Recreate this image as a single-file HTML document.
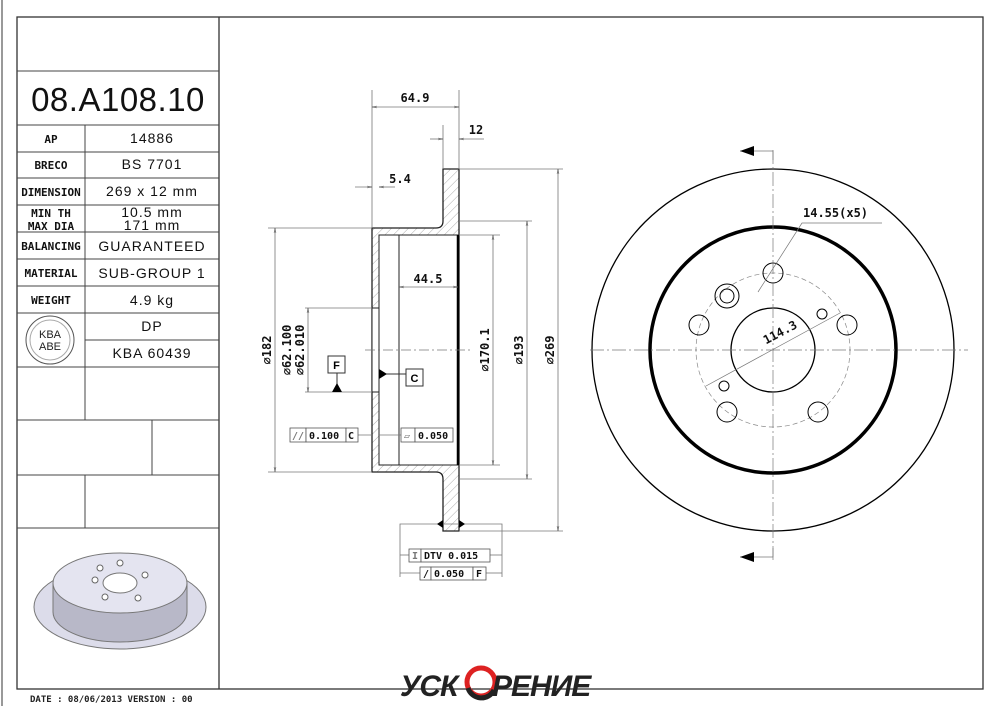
<!DOCTYPE html>
<html><head><meta charset="utf-8"><style>
html,body{margin:0;padding:0;background:#fff;}
svg{display:block;}
text{font-family:"Liberation Sans",sans-serif;}
.m{font-family:"DejaVu Sans Mono","Liberation Mono",monospace;}
</style></head><body>
<svg width="999" height="706" viewBox="0 0 999 706" xmlns="http://www.w3.org/2000/svg">
<defs>
<pattern id="h" width="6" height="6" patternUnits="userSpaceOnUse" patternTransform="rotate(45)"><line x1="0" y1="0" x2="0" y2="6" stroke="#888" stroke-width="0.7"/></pattern>
<marker id="a" viewBox="0 0 10 10" refX="10" refY="5" markerWidth="6" markerHeight="6" orient="auto-start-reverse"><path d="M0,3 L10,5 L0,7" fill="none" stroke="#555" stroke-width="1"/></marker>
</defs>
<line x1="2" y1="0" x2="2" y2="706" stroke="#999" stroke-width="2"/>
<rect x="17" y="17" width="966" height="672" fill="none" stroke="#333" stroke-width="1.3"/>
<line x1="219" y1="17" x2="219" y2="689" stroke="#333" stroke-width="1.3"/>
<g stroke="#444" stroke-width="1">
<line x1="17" y1="71" x2="219" y2="71"/><line x1="17" y1="125" x2="219" y2="125"/>
<line x1="17" y1="152" x2="219" y2="152"/><line x1="17" y1="178" x2="219" y2="178"/>
<line x1="17" y1="205" x2="219" y2="205"/><line x1="17" y1="232" x2="219" y2="232"/>
<line x1="17" y1="259" x2="219" y2="259"/><line x1="17" y1="286" x2="219" y2="286"/>
<line x1="17" y1="313" x2="219" y2="313"/><line x1="85" y1="340" x2="219" y2="340"/>
<line x1="17" y1="367" x2="219" y2="367"/><line x1="17" y1="420" x2="219" y2="420"/>
<line x1="17" y1="475" x2="219" y2="475"/><line x1="17" y1="528" x2="219" y2="528"/>
<line x1="85" y1="125" x2="85" y2="420"/><line x1="152" y1="420" x2="152" y2="475"/>
<line x1="85" y1="475" x2="85" y2="528"/>
</g>
<text x="118" y="111" font-size="33" letter-spacing="0.5" text-anchor="middle" fill="#111">08.A108.10</text>
<g class="m" font-size="11" font-weight="bold" text-anchor="middle" fill="#111">
<text class="m" x="51" y="143">AP</text><text class="m" x="51" y="169">BRECO</text>
<text class="m" x="51" y="196">DIMENSION</text><text class="m" x="51" y="217">MIN TH</text><text class="m" x="51" y="230">MAX DIA</text>
<text class="m" x="51" y="250">BALANCING</text><text class="m" x="51" y="277">MATERIAL</text><text class="m" x="51" y="304">WEIGHT</text>
</g>
<g font-size="14" letter-spacing="1" text-anchor="middle" fill="#111">
<text x="152" y="143">14886</text><text x="152" y="169">BS 7701</text>
<text x="152" y="196">269 x 12 mm</text><text x="152" y="217">10.5 mm</text><text x="152" y="230">171 mm</text>
<text x="152" y="251">GUARANTEED</text><text x="152" y="278">SUB-GROUP 1</text><text x="152" y="305">4.9 kg</text>
<text x="152" y="331">DP</text><text x="152" y="358">KBA 60439</text>
</g>
<circle cx="50" cy="340" r="24" fill="none" stroke="#555"/><circle cx="50" cy="340" r="20" fill="none" stroke="#aaa"/>
<text x="50" y="338" font-size="11" text-anchor="middle" font-family="Liberation Serif" fill="#222">KBA</text>
<text x="50" y="350" font-size="11" text-anchor="middle" font-family="Liberation Serif" fill="#222">ABE</text>
<ellipse cx="120" cy="607" rx="86" ry="42" fill="#dcdcea" stroke="#777"/>
<path d="M53,583 L53,612 A67,30 0 0 0 187,612 L187,583 Z" fill="#b8b8c8" stroke="#777"/>
<ellipse cx="120" cy="583" rx="67" ry="30" fill="#e4e4f0" stroke="#777"/>
<ellipse cx="120" cy="583" rx="17" ry="10" fill="#fff" stroke="#777"/>
<g fill="#fff" stroke="#666"><circle cx="95" cy="580" r="3"/><circle cx="145" cy="575" r="3"/><circle cx="105" cy="597" r="3"/><circle cx="138" cy="598" r="3"/><circle cx="120" cy="563" r="3"/><circle cx="100" cy="568" r="3"/></g>
<text x="30" y="702" class="m" font-size="9" font-weight="bold" fill="#222">DATE : 08/06/2013 VERSION : 00</text>
<path d="M443,169 L459,169 L459,531 L443,531 L443,479 Q443,472 436,472 L372,472 L372,228 L436,228 Q443,228 443,221 Z" fill="url(#h)" stroke="#222" stroke-width="1.3"/>
<rect x="379" y="235" width="79" height="230" fill="#fff" stroke="#222" stroke-width="1"/>
<line x1="399" y1="235" x2="399" y2="465" stroke="#222"/>
<line x1="458" y1="235" x2="458" y2="465" stroke="#000" stroke-width="2.5"/>
<rect x="372" y="308" width="7" height="84" fill="#fff" stroke="#222"/>
<g stroke="#777" stroke-width="0.8" fill="none">
<line x1="372" y1="90" x2="372" y2="228"/><line x1="459" y1="90" x2="459" y2="169"/><line x1="443" y1="125" x2="443" y2="169"/>
<line x1="372" y1="107" x2="459" y2="107" marker-start="url(#a)" marker-end="url(#a)"/>
<line x1="430" y1="139" x2="443" y2="139" marker-end="url(#a)"/><line x1="484" y1="139" x2="459" y2="139" marker-end="url(#a)"/>
<line x1="355" y1="187" x2="372" y2="187" marker-end="url(#a)"/><line x1="395" y1="187" x2="379" y2="187" marker-end="url(#a)"/>
<line x1="399" y1="287" x2="458" y2="287" marker-start="url(#a)" marker-end="url(#a)"/>
<line x1="268" y1="228" x2="372" y2="228"/><line x1="268" y1="472" x2="372" y2="472"/>
<line x1="275" y1="228" x2="275" y2="472" marker-start="url(#a)" marker-end="url(#a)"/>
<line x1="305" y1="308" x2="372" y2="308"/><line x1="305" y1="392" x2="372" y2="392"/>
<line x1="308" y1="308" x2="308" y2="392" marker-start="url(#a)" marker-end="url(#a)"/>
<line x1="459" y1="235" x2="500" y2="235"/><line x1="459" y1="465" x2="500" y2="465"/>
<line x1="493" y1="235" x2="493" y2="465" marker-start="url(#a)" marker-end="url(#a)"/>
<line x1="459" y1="221" x2="532" y2="221"/><line x1="459" y1="479" x2="532" y2="479"/>
<line x1="527" y1="221" x2="527" y2="479" marker-start="url(#a)" marker-end="url(#a)"/>
<line x1="459" y1="169" x2="563" y2="169"/><line x1="459" y1="531" x2="563" y2="531"/>
<line x1="558" y1="169" x2="558" y2="531" marker-start="url(#a)" marker-end="url(#a)"/>
<line x1="365" y1="350" x2="470" y2="350" stroke-dasharray="10,3,2,3"/>
<line x1="345" y1="435" x2="372" y2="435"/><line x1="379" y1="435" x2="401" y2="435"/>
<polyline points="400,577 400,524 502,524 502,577"/>
<line x1="400" y1="555" x2="409" y2="555"/><line x1="490" y1="555" x2="502" y2="555"/>
<line x1="400" y1="573" x2="420" y2="573"/><line x1="486" y1="573" x2="502" y2="573"/>
</g>
<path d="M437,524 l6,-4 l0,8 Z M465,524 l-6,-4 l0,8 Z" fill="#000"/>
<g class="m" font-size="12" font-weight="bold" fill="#111">
<text class="m" x="415" y="102" text-anchor="middle">64.9</text>
<text class="m" x="476" y="134" text-anchor="middle">12</text>
<text class="m" x="400" y="183" text-anchor="middle">5.4</text>
<text class="m" x="428" y="283" text-anchor="middle">44.5</text>
<text class="m" transform="translate(271,350) rotate(-90)" text-anchor="middle">⌀182</text>
<text class="m" transform="translate(291,350) rotate(-90)" text-anchor="middle">⌀62.100</text>
<text class="m" transform="translate(304,350) rotate(-90)" text-anchor="middle">⌀62.010</text>
<text class="m" transform="translate(489,350) rotate(-90)" text-anchor="middle">⌀170.1</text>
<text class="m" transform="translate(523,350) rotate(-90)" text-anchor="middle">⌀193</text>
<text class="m" transform="translate(554,350) rotate(-90)" text-anchor="middle">⌀269</text>
</g>
<rect x="328" y="356" width="17" height="17" fill="#fff" stroke="#333"/><text x="336.5" y="369" font-size="11" font-weight="bold" text-anchor="middle">F</text>
<line x1="337" y1="373" x2="337" y2="392" stroke="#333"/><path d="M332,392 L337,383 L342,392 Z" fill="#000"/>
<rect x="406" y="369" width="17" height="17" fill="#fff" stroke="#333"/><text x="414.5" y="382" font-size="11" font-weight="bold" text-anchor="middle">C</text>
<line x1="385" y1="374" x2="406" y2="374" stroke="#333"/><path d="M379,369 L387,374 L379,379 Z" fill="#000"/>
<g class="m" font-size="10" font-weight="bold" fill="#111" stroke="#555" stroke-width="0.8">
<rect x="290" y="428" width="16" height="14" fill="#fff"/><rect x="306" y="428" width="40" height="14" fill="#fff"/><rect x="346" y="428" width="12" height="14" fill="#fff"/>
<rect x="401" y="428" width="14" height="14" fill="#fff"/><rect x="415" y="428" width="38" height="14" fill="#fff"/>
<rect x="409" y="549" width="12" height="13" fill="#fff"/><rect x="421" y="549" width="69" height="13" fill="#fff"/>
<rect x="420" y="567" width="11" height="13" fill="#fff"/><rect x="431" y="567" width="42" height="13" fill="#fff"/><rect x="473" y="567" width="13" height="13" fill="#fff"/>
</g>
<g class="m" font-size="10" font-weight="bold" fill="#111">
<text class="m" x="292" y="439" fill="#777">//</text><text class="m" x="309" y="439">0.100</text><text class="m" x="348" y="439">C</text>
<text class="m" x="404" y="439" fill="#777">▱</text><text class="m" x="418" y="439">0.050</text>
<text class="m" x="412" y="559" fill="#777">I</text><text class="m" x="424" y="559">DTV 0.015</text>
<text class="m" x="423" y="577">/</text><text class="m" x="434" y="577">0.050</text><text class="m" x="476" y="577">F</text>
</g>
<g fill="none" stroke="#000">
<circle cx="773" cy="350" r="181" stroke-width="1.3"/>
<circle cx="773" cy="350" r="123" stroke-width="3.5"/>
<circle cx="773" cy="350" r="42" stroke-width="1.3"/>
<circle cx="773" cy="350" r="77" stroke="#888" stroke-width="0.7" stroke-dasharray="5,3"/>
<circle cx="773" cy="273" r="10"/><circle cx="699" cy="325" r="10"/><circle cx="847" cy="325" r="10"/>
<circle cx="727" cy="412" r="10"/><circle cx="818" cy="412" r="10"/>
<circle cx="727" cy="296" r="12"/><circle cx="727" cy="296" r="7"/>
<circle cx="822" cy="314" r="5"/><circle cx="724" cy="386" r="5"/>
</g>
<g stroke="#777" stroke-width="0.7" fill="none">
<line x1="590" y1="350" x2="968" y2="350" stroke-dasharray="14,3,2,3"/>
<line x1="773" y1="150" x2="773" y2="560" stroke-dasharray="14,3,2,3"/>
<polyline points="740,151 773,151 773,160"/><polyline points="740,557 773,557 773,548"/>
<polyline points="882,223 802,223 758,292"/>
<line x1="706" y1="386" x2="840" y2="313"/>
</g>
<path d="M740,151 l14,-5 l0,10 Z M740,557 l14,-5 l0,10 Z" fill="#000"/>
<text x="803" y="217" class="m" font-size="12" font-weight="bold" fill="#111">14.55(x5)</text>
<text class="m" transform="translate(782,336) rotate(-28)" font-size="12" font-weight="bold" text-anchor="middle" fill="#111">114.3</text>
<text x="400" y="696" font-size="30" font-weight="bold" font-style="italic" letter-spacing="-1" fill="#222" font-family="Liberation Sans, DejaVu Sans, sans-serif">УСК</text>
<circle cx="481" cy="682" r="14" fill="none" stroke="#d22" stroke-width="5"/>
<path d="M468,688 A14,14 0 0 0 494,690" fill="none" stroke="#222" stroke-width="5"/>
<text x="492" y="696" font-size="30" font-weight="bold" font-style="italic" letter-spacing="-1" fill="#222" font-family="Liberation Sans, DejaVu Sans, sans-serif">РЕНИЕ</text>
</svg>
</body></html>
